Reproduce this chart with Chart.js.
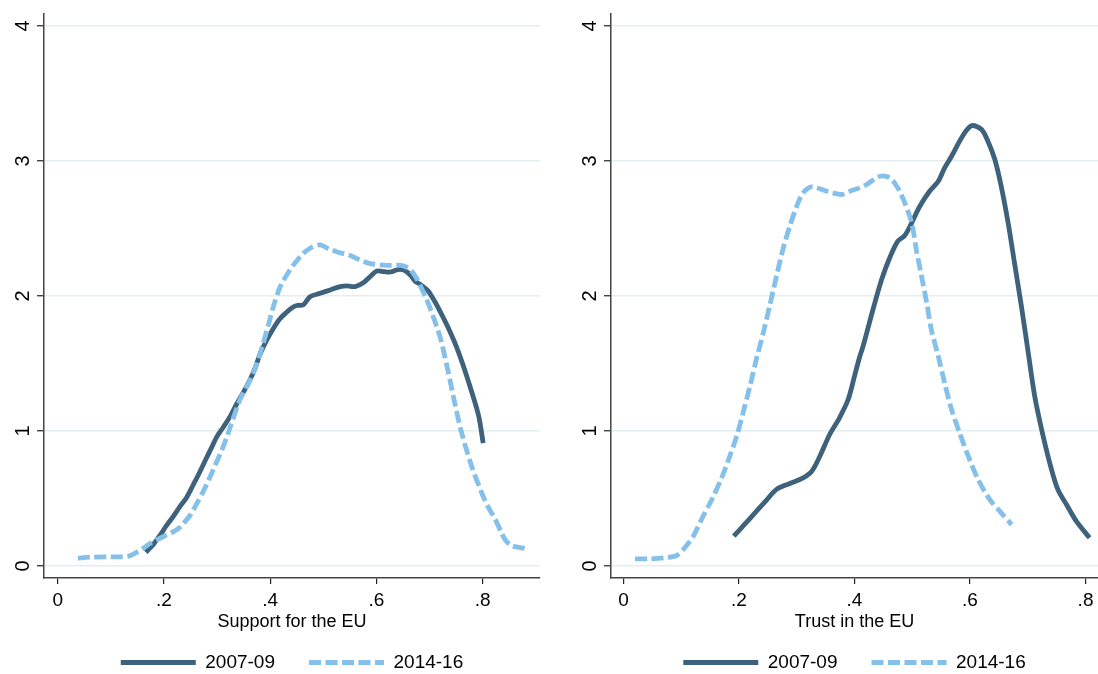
<!DOCTYPE html>
<html>
<head>
<meta charset="utf-8">
<script src="https://cdn.jsdelivr.net/npm/chart.js@4.4.1/dist/chart.umd.min.js"></script>
<style>
  html, body { margin: 0; padding: 0; background: #ffffff; }
  #wrap { position: relative; width: 1098px; height: 674px; background: #fff; overflow: hidden; }
  .panel { position: absolute; top: 0; width: 549px; height: 674px; }
</style>
</head>
<body>
<div id="wrap">
  <div class="panel" style="left:0px"><canvas id="c1" width="549" height="674"></canvas></div>
  <div class="panel" style="left:549px"><canvas id="c2" width="549" height="674"></canvas></div>
</div>
<script>
// ---------------- DATA ----------------
const seriesLabels = ["2007-09", "2014-16"];
const xTitles = ["Support for the EU", "Trust in the EU"];
const xTickValues = [0, 0.2, 0.4, 0.6, 0.8];
const xTickLabels = ["0", ".2", ".4", ".6", ".8"];
const yTickValues = [0, 1, 2, 3, 4];
const yTickLabels = ["0", "1", "2", "3", "4"];

// Support for the EU, 2007-09
const supportX0709 = [0.166,0.18,0.193,0.205,0.218,0.23,0.243,0.255,0.268,0.28,0.29,0.30,0.312,0.325,0.337,0.35,0.362,0.372,0.381,0.393,0.406,0.418,0.431,0.44,0.45,0.4625,0.475,0.494,0.513,0.532,0.545,0.56,0.576,0.59,0.601,0.615,0.627,0.64,0.649,0.657,0.665,0.673,0.681,0.697,0.706,0.716,0.735,0.754,0.773,0.792,0.801];
const supportY0709 = [0.10,0.16,0.23,0.30,0.37,0.44,0.51,0.60,0.70,0.80,0.88,0.96,1.03,1.11,1.20,1.29,1.38,1.47,1.57,1.67,1.76,1.83,1.88,1.91,1.93,1.935,1.995,2.02,2.045,2.07,2.075,2.07,2.10,2.15,2.185,2.18,2.178,2.195,2.195,2.18,2.15,2.11,2.09,2.04,1.985,1.916,1.766,1.59,1.37,1.12,0.91];

// Support for the EU, 2014-16
const supportX1416 = [0.038,0.06,0.09,0.12,0.135,0.15,0.161,0.175,0.186,0.20,0.218,0.228,0.237,0.25,0.262,0.275,0.287,0.298,0.309,0.318,0.325,0.343,0.356,0.368,0.378,0.387,0.397,0.406,0.419,0.437,0.45,0.4625,0.478,0.494,0.51,0.525,0.551,0.57,0.589,0.62,0.646,0.656,0.665,0.675,0.684,0.694,0.703,0.713,0.722,0.735,0.747,0.76,0.779,0.798,0.81,0.824,0.835,0.843,0.855,0.879];
const supportY1416 = [0.058,0.065,0.068,0.068,0.075,0.105,0.131,0.17,0.193,0.22,0.254,0.28,0.316,0.38,0.464,0.56,0.661,0.76,0.859,0.95,1.032,1.23,1.33,1.427,1.54,1.65,1.79,1.921,2.07,2.193,2.26,2.316,2.36,2.378,2.35,2.328,2.30,2.265,2.24,2.227,2.227,2.215,2.19,2.135,2.065,1.98,1.89,1.78,1.666,1.441,1.217,0.993,0.743,0.544,0.44,0.344,0.25,0.19,0.15,0.13];

// Trust in the EU, 2007-09
const trustX0709 = [0.191,0.208,0.225,0.245,0.265,0.288,0.311,0.326,0.34,0.357,0.374,0.389,0.40,0.409,0.415,0.432,0.447,0.461,0.475,0.487,0.499,0.513,0.53,0.545,0.556,0.568,0.582,0.594,0.604,0.62,0.631,0.643,0.654,0.666,0.677,0.689,0.70,0.712,0.724,0.738,0.752,0.767,0.784,0.807];
const trustY0709 = [0.221,0.30,0.381,0.475,0.567,0.611,0.653,0.702,0.813,0.974,1.098,1.233,1.406,1.55,1.63,1.90,2.122,2.283,2.406,2.448,2.542,2.665,2.776,2.85,2.949,3.035,3.147,3.228,3.263,3.233,3.147,3.011,2.813,2.542,2.246,1.924,1.604,1.258,1.011,0.764,0.567,0.456,0.332,0.209];

// Trust in the EU, 2014-16
const trustX1416 = [0.02,0.046,0.069,0.092,0.106,0.121,0.135,0.153,0.17,0.184,0.196,0.207,0.219,0.23,0.242,0.253,0.265,0.276,0.288,0.30,0.311,0.326,0.352,0.378,0.392,0.409,0.421,0.444,0.461,0.475,0.487,0.499,0.507,0.516,0.525,0.533,0.545,0.556,0.568,0.582,0.597,0.614,0.634,0.654,0.672];
const trustY1416 = [0.053,0.053,0.06,0.078,0.135,0.221,0.344,0.493,0.653,0.813,0.961,1.135,1.332,1.53,1.727,1.924,2.147,2.344,2.517,2.665,2.764,2.809,2.776,2.752,2.776,2.801,2.826,2.887,2.875,2.801,2.69,2.542,2.344,2.147,1.95,1.752,1.554,1.357,1.159,0.986,0.813,0.641,0.493,0.394,0.307];

// ---------------- STYLE ----------------
const DARK = '#3e627b';
const LIGHT = '#84c0e9';
const GRID = '#e4eef1';
const FONT = "'Liberation Sans', Arial, Helvetica, sans-serif";

function pts(xs, ys) { return xs.map((x, i) => ({ x: x, y: ys[i] })); }

function legendLabels(chart) {
  const items = Chart.defaults.plugins.legend.labels.generateLabels(chart);
  items.forEach(it => {
    const ds = chart.data.datasets[it.datasetIndex];
    it.lineDash = ds.borderDash || [];
    it.lineWidth = ds.borderWidth;
    it.strokeStyle = ds.borderColor;
    it.lineCap = 'butt';
  });
  return items.sort((a, b) => a.datasetIndex - b.datasetIndex);
}

function makeChart(canvasId, title, xsA, ysA, xsB, ysB, xMin, xMax, padLeft, padRight) {
  return new Chart(document.getElementById(canvasId), {
    type: 'line',
    data: {
      datasets: [
        {
          label: seriesLabels[0],
          data: pts(xsA, ysA),
          borderColor: DARK,
          backgroundColor: DARK,
          borderWidth: 4.8,
          pointRadius: 0,
          tension: 0.3,
          fill: false,
          order: 2
        },
        {
          label: seriesLabels[1],
          data: pts(xsB, ysB),
          borderColor: LIGHT,
          backgroundColor: LIGHT,
          borderWidth: 4.8,
          borderDash: [12, 4.5],
          borderCapStyle: 'butt',
          pointRadius: 0,
          tension: 0.3,
          fill: false,
          order: 1
        }
      ]
    },
    options: {
      responsive: false,
      animation: false,
      devicePixelRatio: 1,
      layout: { padding: { top: 14, left: padLeft, right: padRight, bottom: 0 } },
      plugins: {
        tooltip: { enabled: false },
        legend: {
          position: 'bottom',
          fullSize: false,
          maxHeight: 55,
          labels: {
            usePointStyle: true,
            pointStyle: 'line',
            pointStyleWidth: 75,
            padding: 34,
            color: '#000',
            font: { family: FONT, size: 19 },
            generateLabels: legendLabels
          }
        }
      },
      scales: {
        x: {
          type: 'linear',
          min: xMin,
          max: xMax,
          afterBuildTicks: (s) => { s.ticks = xTickValues.map(v => ({ value: v })); },
          afterFit: (s) => { s.height = 41; s.paddingLeft = 0; s.paddingRight = 0; },
          ticks: {
            autoSkip: false,
            maxRotation: 0,
            padding: 5,
            color: '#000',
            font: { family: FONT, size: 19 },
            callback: (v) => { const i = xTickValues.indexOf(v); return i >= 0 ? xTickLabels[i] : ''; }
          },
          grid: { drawOnChartArea: false, drawTicks: true, tickLength: 6, tickColor: '#222', lineWidth: 1.2 },
          border: { display: true, color: '#444', width: 1.5 },
          title: {
            display: true,
            text: title,
            color: '#000',
            font: { family: FONT, size: 18 },
            padding: { top: 0, bottom: -13.8 }
          }
        },
        y: {
          type: 'linear',
          min: -0.089,
          max: 4.089,
          afterBuildTicks: (s) => { s.ticks = yTickValues.map(v => ({ value: v })); },
          afterFit: (s) => { s.width = 44; s.paddingTop = 0; s.paddingBottom = 0; },
          ticks: {
            autoSkip: false,
            minRotation: 90,
            maxRotation: 90,
            crossAlign: 'center',
            padding: 8,
            color: '#000',
            font: { family: FONT, size: 20 },
            callback: (v) => { const i = yTickValues.indexOf(v); return i >= 0 ? yTickLabels[i] : ''; }
          },
          grid: { color: GRID, lineWidth: 1.5, drawTicks: true, tickLength: 7, tickColor: '#222', tickWidth: 1.2 },
          border: { display: true, color: '#444', width: 1.5 }
        }
      }
    }
  });
}

makeChart('c1', xTitles[0], supportX0709, supportY0709, supportX1416, supportY1416, -0.0258, 0.908, 0, 9);
makeChart('c2', xTitles[1], trustX0709, trustY0709, trustX1416, trustY1416, -0.0216, 0.8216, 18, 0);
</script>
</body>
</html>
